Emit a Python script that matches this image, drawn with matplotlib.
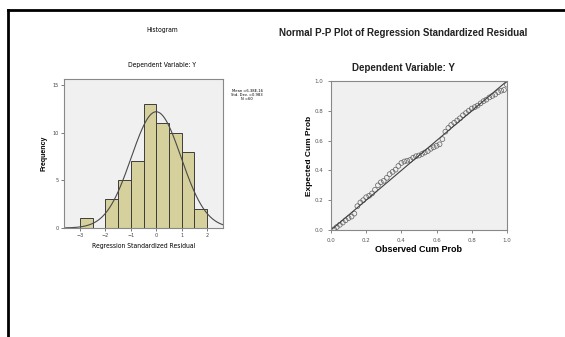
import numpy as np
import matplotlib
matplotlib.use("Agg")
import matplotlib.pyplot as plt
from matplotlib.lines import Line2D

# histogram of standardized residuals (bin width 0.5)
bin_edges = [-3.0, -2.5, -2.0, -1.5, -1.0, -0.5, 0.0, 0.5, 1.0, 1.5, 2.0]
bin_counts = [1, 0, 3, 5, 7, 13, 11, 10, 8, 2]
res_mean = 6.38e-16
res_sd = 0.983
res_n = 60
hist_xticks = [-3, -2, -1, 0, 1, 2]
hist_yticks = [0, 5, 10, 15]

# P-P plot points
observed = [0.017, 0.033, 0.050, 0.067, 0.083, 0.100, 0.117, 0.133, 0.150, 0.167,
            0.183, 0.200, 0.217, 0.233, 0.250, 0.267, 0.283, 0.300, 0.317, 0.333,
            0.350, 0.367, 0.383, 0.400, 0.417, 0.433, 0.450, 0.467, 0.483, 0.500,
            0.517, 0.533, 0.550, 0.567, 0.583, 0.600, 0.617, 0.633, 0.650, 0.667,
            0.683, 0.700, 0.717, 0.733, 0.750, 0.767, 0.783, 0.800, 0.817, 0.833,
            0.850, 0.867, 0.883, 0.900, 0.917, 0.933, 0.950, 0.967, 0.983, 1.000]
expected = [0.005, 0.020, 0.035, 0.050, 0.065, 0.080, 0.090, 0.110, 0.160, 0.185,
            0.200, 0.220, 0.230, 0.245, 0.270, 0.300, 0.320, 0.330, 0.350, 0.375,
            0.390, 0.405, 0.430, 0.450, 0.460, 0.465, 0.470, 0.485, 0.495, 0.500,
            0.510, 0.520, 0.530, 0.545, 0.555, 0.565, 0.575, 0.610, 0.660, 0.685,
            0.705, 0.720, 0.735, 0.750, 0.770, 0.785, 0.800, 0.815, 0.825, 0.835,
            0.850, 0.865, 0.875, 0.890, 0.900, 0.910, 0.925, 0.935, 0.940, 0.975]
pp_ticks = [0.0, 0.2, 0.4, 0.6, 0.8, 1.0]

narrow = dict(family='DejaVu Sans', stretch='condensed')
bold = ['Liberation Sans', 'DejaVu Sans']

fig = plt.figure(figsize=(5.65, 3.37), dpi=100)
fig.patch.set_facecolor('white')

# page frame (left + top black lines)
fig.add_artist(Line2D([8/565, 8/565], [0, 1 - 10/337], color='black', lw=2))
fig.add_artist(Line2D([8/565, 1], [1 - 10/337, 1 - 10/337], color='black', lw=2))

# ---- histogram ----
ax1 = fig.add_axes([0.1133, 0.3234, 0.2814, 0.4421])
ax1.set_facecolor('#f0f0f0')
ax1.bar(bin_edges[:-1], bin_counts, width=0.5, align='edge',
        color='#d5d09c', edgecolor='#3c3c3c', linewidth=0.7)
xs = np.linspace(-3.63, 2.63, 200)
pdf = res_n * 0.5 / (res_sd * np.sqrt(2 * np.pi)) * np.exp(-0.5 * ((xs - res_mean) / res_sd) ** 2)
ax1.plot(xs, pdf, color='#4a4a4a', lw=0.8)
ax1.set_xlim(-3.63, 2.63)
ax1.set_ylim(0, 15.6)
ax1.set_xticks(hist_xticks)
ax1.set_yticks(hist_yticks)
ax1.tick_params(labelsize=3.5, length=2, width=0.5, colors='#444444', pad=1.5)
for s in ax1.spines.values():
    s.set_color('#888888')
    s.set_linewidth(0.8)
ax1.set_xlabel('Regression Standardized Residual', fontsize=4.9, labelpad=4, **narrow)
ax1.set_ylabel('Frequency', family=bold, fontsize=5, fontweight='bold', labelpad=4)
fig.text(162/565, 1 - 65/337, 'Dependent Variable: Y', fontsize=4.9,
         ha='center', va='center', **narrow)
fig.text(162/565, 1 - 30/337, 'Histogram', fontsize=4.9,
         ha='center', va='center', **narrow)
fig.text(247/565, 1 - 95/337, 'Mean =6.38E-16\nStd. Dev. =0.983\nN =60',
         fontsize=3.0, ha='center', va='center', linespacing=1.1, **narrow)

# ---- P-P plot ----
ax2 = fig.add_axes([0.5858, 0.3175, 0.3115, 0.4421])
ax2.set_facecolor('#f0f0f0')
ax2.plot([0, 1], [0, 1], color='#404040', lw=0.8)
ax2.scatter(observed, expected, s=12, facecolors='none', edgecolors='#606060', linewidths=0.5)
ax2.set_xlim(0, 1)
ax2.set_ylim(0, 1)
ax2.set_xticks(pp_ticks)
ax2.set_yticks(pp_ticks)
ax2.xaxis.set_major_formatter(matplotlib.ticker.FormatStrFormatter('%.1f'))
ax2.yaxis.set_major_formatter(matplotlib.ticker.FormatStrFormatter('%.1f'))
ax2.tick_params(labelsize=4, length=2, width=0.5, colors='#555555')
for s in ax2.spines.values():
    s.set_color('#888888')
    s.set_linewidth(0.8)
ax2.set_xlabel('Observed Cum Prob', family=bold, fontsize=6.5, fontweight='bold', labelpad=2)
ax2.set_ylabel('Expected Cum Prob', family=bold, fontsize=6, fontweight='bold', labelpad=1.5)
fig.text(404/565, 1 - 68/337, 'Dependent Variable: Y', family=bold, fontsize=7,
         fontweight='bold', ha='center', va='center', color='#222222')
fig.text(403/565, 1 - 33/337, 'Normal P-P Plot of Regression Standardized Residual',
         family=bold, fontsize=7, fontweight='bold', ha='center', va='center',
         color='#222222')

fig.savefig('out.png', dpi=100)
